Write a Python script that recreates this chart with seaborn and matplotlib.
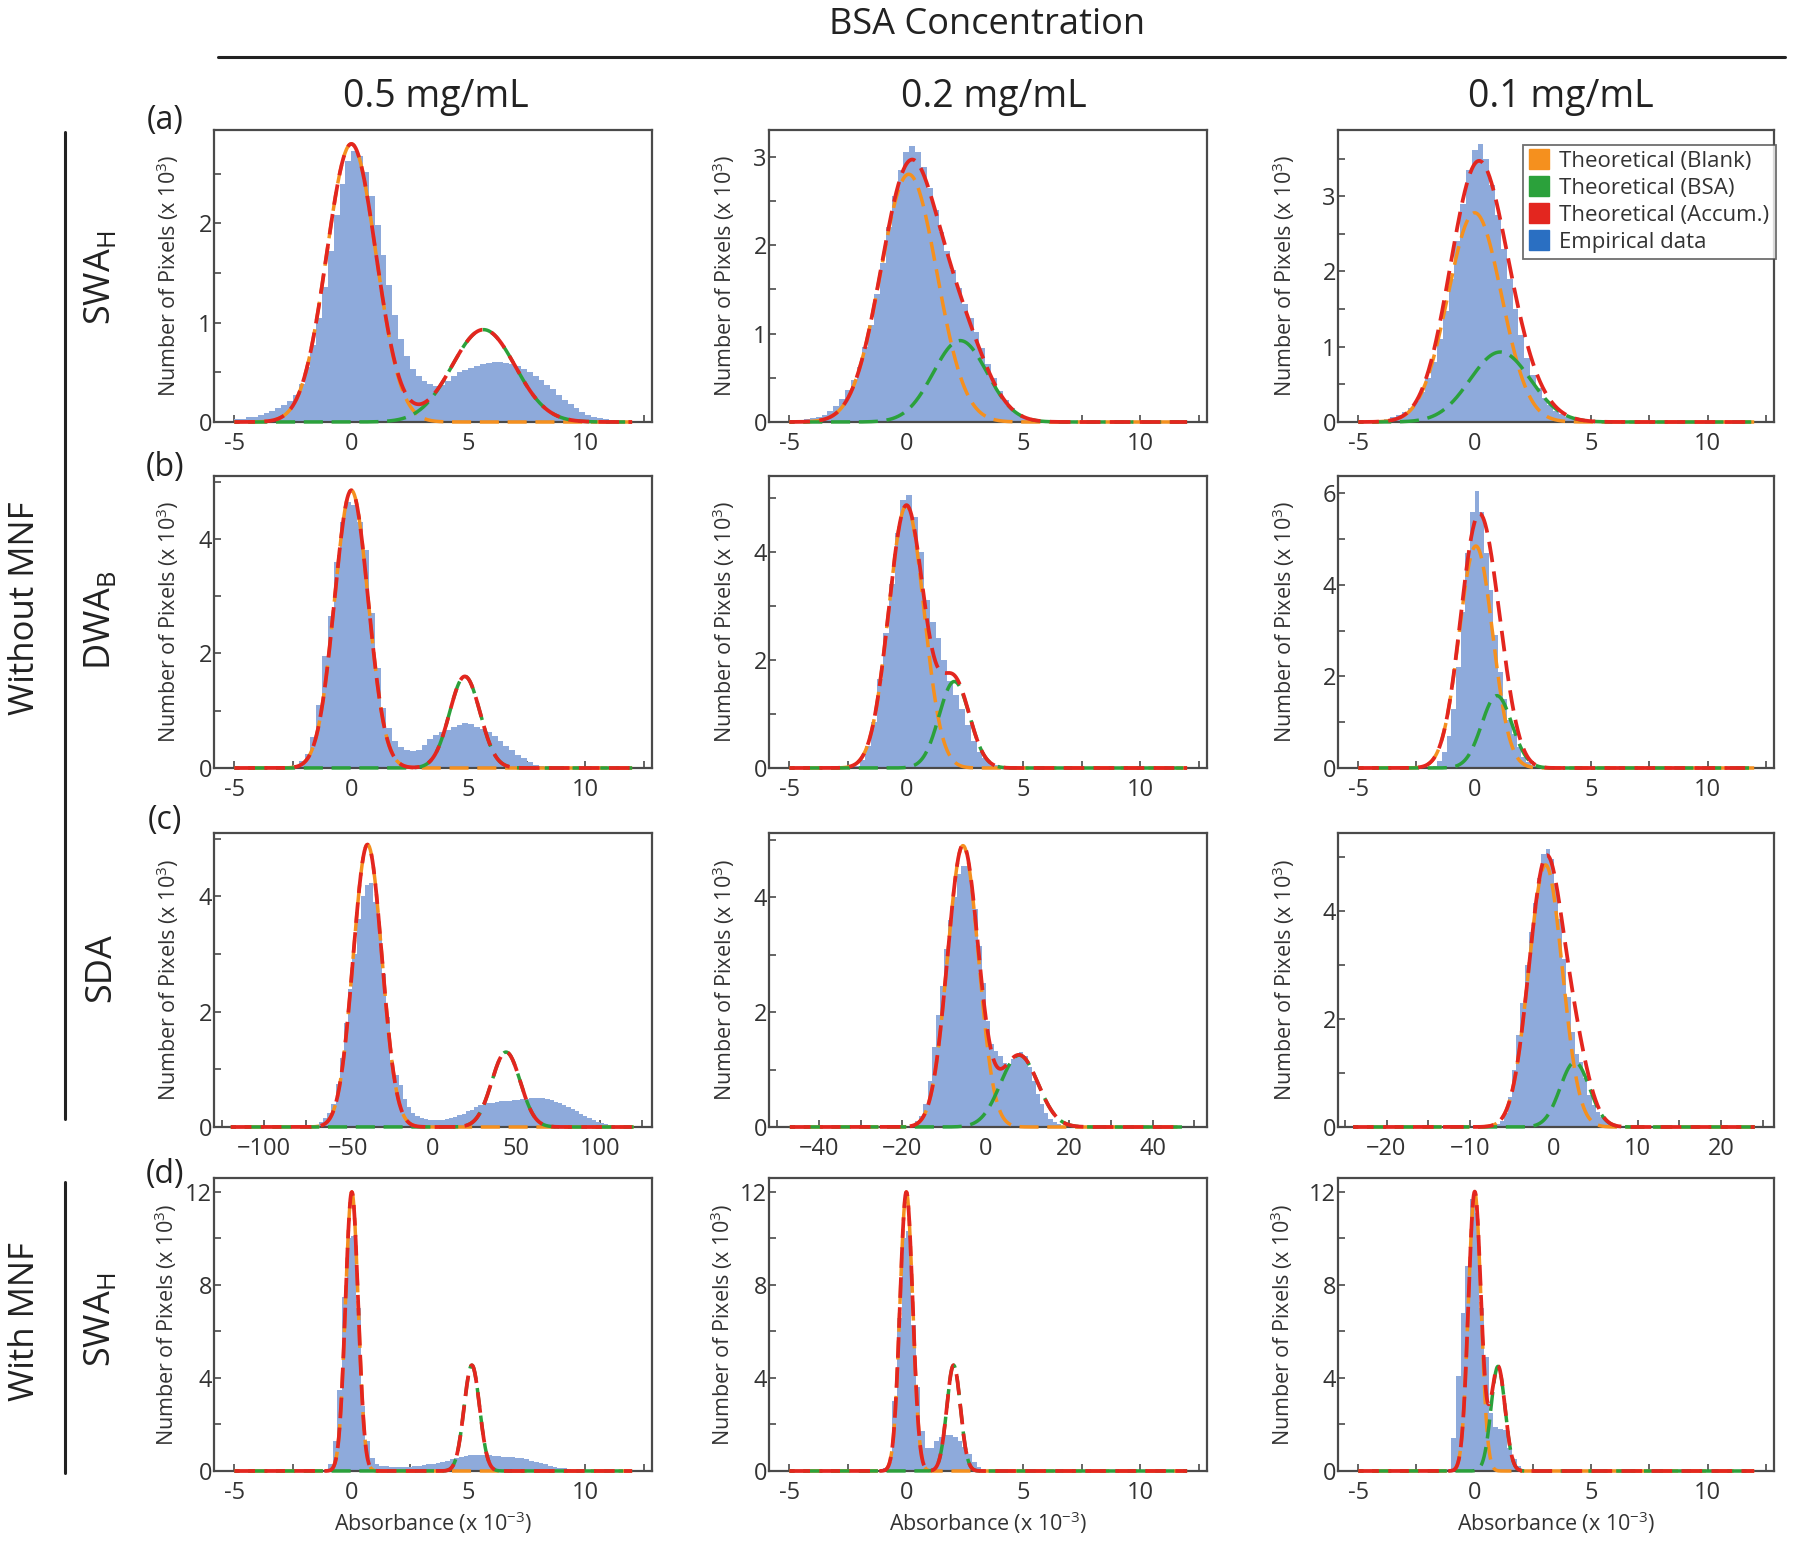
import numpy as np
import pandas as pd
import matplotlib
matplotlib.use('Agg')
import matplotlib.pyplot as plt
from matplotlib.lines import Line2D
from matplotlib.ticker import MultipleLocator
import seaborn as sns

sns.set_theme(style='white')
plt.rcParams['font.family'] = ['Open Sans', 'DejaVu Sans']
plt.rcParams['mathtext.fontset'] = 'custom'
plt.rcParams['mathtext.rm'] = 'Open Sans'

# ---------------- labels ----------------
concentrations = ['0.5 mg/mL', '0.2 mg/mL', '0.1 mg/mL']
methods = ['SWA$_\\mathregular{H}$', 'DWA$_\\mathregular{B}$', 'SDA', 'SWA$_\\mathregular{H}$']
panel_tags = ['(a)', '(b)', '(c)', '(d)']
groups = ['Without MNF', 'With MNF']
legend_names = ['Theoretical (Blank)', 'Theoretical (BSA)', 'Theoretical (Accum.)', 'Empirical data']
ylabel_text = 'Number of Pixels (x 10$^\\mathregular{3}$)'
xlabel_text = 'Absorbance (x 10$^\\mathregular{-3}$)'

# x tick labels
abs_xticks = [-5, 0, 5, 10]
abs_xticklabels = ['-5', '0', '5', '10']
sda_xticks = [[-100, -50, 0, 50, 100], [-40, -20, 0, 20, 40], [-20, -10, 0, 10, 20]]
sda_xticklabels = [['\u2212100', '\u221250', '0', '50', '100'],
                   ['\u221240', '\u221220', '0', '20', '40'],
                   ['\u221220', '\u221210', '0', '10', '20']]

# y tick labels per panel
yticks_a = [[0, 1, 2], [0, 1, 2, 3], [0, 1, 2, 3]]
yticks_b = [[0, 2, 4], [0, 2, 4], [0, 2, 4, 6]]
yticks_c = [[0, 2, 4], [0, 2, 4], [0, 2, 4]]
yticks_d = [[0, 4, 8, 12], [0, 4, 8, 12], [0, 4, 8, 12]]
ymax_a = [2.94, 3.30, 3.88]
ymax_b = [5.10, 5.40, 6.38]
ymax_c = [5.10, 5.12, 5.44]
ymax_d = [12.6, 12.6, 12.6]

# ---------------- empirical histograms (x 10^3 pixels) ----------------
# row (a) SWA_H
start_a1, width_a1 = -5.0, 0.25
hist_a1 = [0.03, 0.03, 0.05, 0.05, 0.07, 0.09, 0.11, 0.14, 0.17, 0.21, 0.27, 0.38, 0.55, 0.78,
           1.05, 1.36, 1.72, 2.08, 2.40, 2.63, 2.73, 2.68, 2.52, 2.28, 1.98, 1.68, 1.38, 1.08,
           0.84, 0.66, 0.53, 0.46, 0.41, 0.38, 0.36, 0.37, 0.41, 0.46, 0.50, 0.52, 0.54, 0.56,
           0.58, 0.59, 0.60, 0.60, 0.59, 0.58, 0.56, 0.53, 0.50, 0.46, 0.42, 0.37, 0.33, 0.27,
           0.22, 0.18, 0.14, 0.10, 0.07, 0.05, 0.04, 0.03, 0.02, 0.01]
start_a2, width_a2 = -4.625, 0.25
hist_a2 = [0.02, 0.03, 0.04, 0.06, 0.08, 0.12, 0.18, 0.26, 0.36, 0.48, 0.62, 0.85, 1.10, 1.45,
           1.80, 2.20, 2.55, 2.85, 3.05, 3.12, 3.05, 2.88, 2.65, 2.40, 2.15, 1.93, 1.72, 1.52,
           1.33, 1.18, 1.02, 0.84, 0.65, 0.50, 0.35, 0.25, 0.16, 0.10, 0.06, 0.03, 0.02]
start_a3, width_a3 = -4.125, 0.25
hist_a3 = [0.02, 0.04, 0.06, 0.09, 0.13, 0.19, 0.28, 0.40, 0.58, 0.80, 1.10, 1.48, 1.90, 2.40,
           2.90, 3.35, 3.62, 3.70, 3.50, 3.15, 2.75, 2.30, 1.90, 1.50, 1.15, 0.85, 0.62, 0.45,
           0.32, 0.22, 0.15, 0.10, 0.06, 0.04, 0.02, 0.01]
# row (b) DWA_B
start_b1, width_b1 = -2.5, 0.25
hist_b1 = [0.05, 0.12, 0.25, 0.55, 1.10, 1.95, 2.65, 3.60, 4.30, 4.65, 4.60, 4.30, 3.80, 2.70,
           1.75, 1.05, 0.70, 0.48, 0.36, 0.31, 0.30, 0.32, 0.40, 0.50, 0.57, 0.63, 0.67, 0.71,
           0.75, 0.79, 0.76, 0.72, 0.68, 0.63, 0.56, 0.47, 0.39, 0.31, 0.23, 0.17, 0.11, 0.06,
           0.03, 0.01]
start_b2, width_b2 = -2.25, 0.25
hist_b2 = [0.03, 0.15, 0.40, 0.85, 1.65, 2.50, 3.40, 4.35, 4.95, 5.05, 4.65, 4.00, 3.10, 2.70,
           2.40, 2.00, 1.60, 1.35, 1.10, 0.80, 0.50, 0.30, 0.18, 0.10, 0.05, 0.02]
start_b3, width_b3 = -1.8, 0.2
hist_b3 = [0.05, 0.15, 0.35, 0.70, 1.30, 2.20, 3.40, 4.70, 5.60, 6.05, 5.60, 4.70, 3.90, 2.90,
           2.10, 1.50, 1.05, 0.75, 0.45, 0.25, 0.13, 0.06, 0.02]
# row (c) SDA
start_c1, width_c1 = -67.5, 2.5
hist_c1 = [0.08, 0.16, 0.25, 0.40, 0.75, 1.20, 1.80, 2.40, 3.00, 3.60, 4.00, 4.20, 4.23, 3.90,
           3.35, 2.65, 1.90, 1.15, 0.90, 0.72, 0.48, 0.35, 0.25, 0.19, 0.16, 0.14, 0.13, 0.13,
           0.13, 0.13, 0.14, 0.15, 0.18, 0.20, 0.23, 0.27, 0.30, 0.34, 0.38, 0.41, 0.42, 0.42,
           0.44, 0.45, 0.45, 0.45, 0.46, 0.47, 0.48, 0.49, 0.50, 0.51, 0.51, 0.51, 0.49, 0.46,
           0.44, 0.41, 0.38, 0.34, 0.31, 0.27, 0.23, 0.19, 0.15, 0.12, 0.09, 0.07, 0.05, 0.03,
           0.02, 0.01]
start_c2, width_c2 = -18.0, 1.0
hist_c2 = [0.05, 0.10, 0.20, 0.40, 0.80, 1.40, 1.95, 2.45, 3.10, 3.60, 4.00, 4.40, 4.55, 4.55,
           4.30, 3.80, 3.15, 2.50, 1.85, 1.45, 1.32, 1.24, 1.12, 1.10, 1.18, 1.26, 1.30, 1.24,
           1.05, 0.80, 0.58, 0.40, 0.24, 0.14, 0.08, 0.05, 0.02]
start_c3, width_c3 = -7.0, 0.5
hist_c3 = [0.05, 0.12, 0.25, 0.55, 1.05, 1.70, 2.30, 3.00, 3.60, 4.15, 4.60, 5.05, 5.15, 4.95,
           4.50, 3.85, 3.10, 2.40, 1.75, 1.35, 1.20, 0.90, 0.60, 0.40, 0.28, 0.18, 0.11, 0.06,
           0.03]
# row (d) SWA_H with MNF
start_d1, width_d1 = -1.0, 0.2
hist_d1 = [0.30, 1.30, 3.50, 7.50, 10.00, 10.10, 7.00, 2.80, 1.30, 0.55, 0.30, 0.22, 0.20, 0.18,
           0.17, 0.17, 0.17, 0.18, 0.20, 0.22, 0.25, 0.28, 0.32, 0.36, 0.40, 0.45, 0.50, 0.55,
           0.60, 0.64, 0.67, 0.69, 0.70, 0.69, 0.67, 0.65, 0.64, 0.62, 0.61, 0.60, 0.58, 0.55,
           0.50, 0.45, 0.38, 0.33, 0.28, 0.23, 0.19, 0.15, 0.11, 0.08, 0.05, 0.03, 0.02]
start_d2, width_d2 = -1.0, 0.2
hist_d2 = [0.15, 0.40, 3.00, 6.60, 10.00, 10.30, 6.30, 3.60, 1.70, 1.00, 0.98, 1.30, 1.45, 1.55,
           1.55, 1.45, 1.30, 1.05, 0.75, 0.40, 0.18, 0.06]
start_d3, width_d3 = -1.2, 0.2
hist_d3 = [0.10, 1.40, 4.10, 6.80, 8.80, 11.70, 11.10, 7.00, 4.90, 2.50, 1.90, 1.80, 1.75, 1.00,
           0.50, 0.20, 0.06]

# ---------------- theoretical gaussians: (amplitude, mean, sd) ----------------
blank_a1, bsa_a1 = (2.80, 0.00, 1.05), (0.93, 5.65, 1.35)
blank_a2, bsa_a2 = (2.80, 0.10, 1.20), (0.92, 2.30, 1.15)
blank_a3, bsa_a3 = (2.78, 0.00, 1.15), (0.93, 1.10, 1.30)
blank_b1, bsa_b1 = (4.85, 0.00, 0.72), (1.60, 4.85, 0.65)
blank_b2, bsa_b2 = (4.85, 0.00, 0.75), (1.60, 2.05, 0.65)
blank_b3, bsa_b3 = (4.85, 0.05, 0.72), (1.58, 0.95, 0.65)
blank_c1, bsa_c1 = (4.90, -38.5, 8.5), (1.30, 44.0, 8.5)
blank_c2, bsa_c2 = (4.90, -5.5, 3.7), (1.25, 8.0, 4.5)
blank_c3, bsa_c3 = (4.85, -1.0, 2.0), (1.20, 2.5, 1.75)
blank_d1, bsa_d1 = (12.0, 0.02, 0.27), (4.55, 5.15, 0.33)
blank_d2, bsa_d2 = (12.0, 0.00, 0.27), (4.55, 2.02, 0.29)
blank_d3, bsa_d3 = (12.0, 0.00, 0.27), (4.50, 1.00, 0.30)

# curve ranges
abs_curve_range = (-5, 12)
sda_curve_range = [(-120, 120), (-47, 47), (-24, 24)]
abs_xlim = (-5.87, 12.85)
sda_xlim = [(-130, 131), (-52, 53), (-25.8, 26.3)]

# ---------------- styles ----------------
c_blank = '#f5901e'
c_bsa = '#2ba13b'
c_sum = '#e3261f'
c_hist = '#8eaadb'
c_emp = '#2a6fc2'
frame = '#4a4a4a'
txt = '#333333'

hists = [[(start_a1, width_a1, hist_a1), (start_a2, width_a2, hist_a2), (start_a3, width_a3, hist_a3)],
         [(start_b1, width_b1, hist_b1), (start_b2, width_b2, hist_b2), (start_b3, width_b3, hist_b3)],
         [(start_c1, width_c1, hist_c1), (start_c2, width_c2, hist_c2), (start_c3, width_c3, hist_c3)],
         [(start_d1, width_d1, hist_d1), (start_d2, width_d2, hist_d2), (start_d3, width_d3, hist_d3)]]
fits = [[(blank_a1, bsa_a1), (blank_a2, bsa_a2), (blank_a3, bsa_a3)],
        [(blank_b1, bsa_b1), (blank_b2, bsa_b2), (blank_b3, bsa_b3)],
        [(blank_c1, bsa_c1), (blank_c2, bsa_c2), (blank_c3, bsa_c3)],
        [(blank_d1, bsa_d1), (blank_d2, bsa_d2), (blank_d3, bsa_d3)]]
yticks_all = [yticks_a, yticks_b, yticks_c, yticks_d]
ymax_all = [ymax_a, ymax_b, ymax_c, ymax_d]
yminor = [0.5, 1, 1, 2]


def gauss(x, p):
    a, m, s = p
    return a * np.exp(-(x - m) ** 2 / (2 * s ** 2))


W, H = 1800, 1541
fig = plt.figure(figsize=(W / 100, H / 100), dpi=100)

col_lr = [(214, 652), (769, 1207), (1338, 1774)]
row_tb = [(130, 422), (476, 768), (833, 1127), (1178, 1471)]
ylab_x = [-0.076, -0.073, -0.095]

dash = (5.5, 2.5)
for r in range(4):
    for c in range(3):
        l, rr = col_lr[c]
        t, b = row_tb[r]
        ax = fig.add_axes([l / W, 1 - b / H, (rr - l) / W, (b - t) / H])
        start, width, h = hists[r][c]
        n = len(h)
        edges = [start + width * i for i in range(n + 1)]
        df = pd.DataFrame({'x': [start + width * (i + 0.5) for i in range(n)], 'w': h})
        sns.histplot(data=df, x='x', weights='w', bins=edges, element='step', fill=True,
                     color=c_hist, alpha=1, linewidth=0, ax=ax, zorder=1)

        if r == 2:
            lo, hi = sda_curve_range[c]
        else:
            lo, hi = abs_curve_range
        xs = np.linspace(lo, hi, 800)
        pb, pg = fits[r][c]
        yb, yg = gauss(xs, pb), gauss(xs, pg)
        ax.plot(xs, yb, color=c_blank, lw=2.5, linestyle=(4, dash), clip_on=False, zorder=4)
        ax.plot(xs, yg, color=c_bsa, lw=2.5, linestyle=(4, dash), clip_on=False, zorder=4)
        ax.plot(xs, yb + yg, color=c_sum, lw=2.7, linestyle=(0, dash), clip_on=False, zorder=5)

        # axes
        if r == 2:
            ax.set_xlim(*sda_xlim[c])
            ax.set_xticks(sda_xticks[c])
            ax.set_xticklabels(sda_xticklabels[c])
            step = sda_xticks[c][1] - sda_xticks[c][0]
            ax.xaxis.set_minor_locator(MultipleLocator(step / 2))
        else:
            ax.set_xlim(*abs_xlim)
            ax.set_xticks(abs_xticks)
            ax.set_xticklabels(abs_xticklabels)
            ax.xaxis.set_minor_locator(MultipleLocator(2.5))
        ax.set_ylim(0, ymax_all[r][c])
        ax.set_yticks(yticks_all[r][c])
        ax.set_yticklabels([str(v) for v in yticks_all[r][c]])
        ax.yaxis.set_minor_locator(MultipleLocator(yminor[r]))

        ax.tick_params(axis='both', which='both', direction='in', length=5, width=1.2,
                       color=frame, labelcolor=txt, labelsize=17, bottom=True, left=True,
                       top=False, right=False)
        ax.tick_params(axis='x', which='both', pad=7.5)
        ax.tick_params(axis='y', which='both', pad=1.5)
        for sp in ax.spines.values():
            sp.set_color(frame)
            sp.set_linewidth(1.6)
            sp.set_zorder(3)
        ax.set_ylabel(ylabel_text, fontsize=15.5, color=txt)
        ax.yaxis.set_label_coords(ylab_x[c] - (0.004 if r == 3 else 0), 0.5)
        if r == 3:
            ax.set_xlabel(xlabel_text, fontsize=15.5, color=txt, labelpad=3)
        else:
            ax.set_xlabel('')

        if r == 0 and c == 2:
            handles = [Line2D([], [], marker='s', linestyle='none', markersize=14,
                              markerfacecolor=col, markeredgecolor=col)
                       for col in [c_blank, c_bsa, c_sum, c_emp]]
            leg = ax.legend(handles, legend_names, loc='upper right', bbox_to_anchor=(1.005, 0.95),
                            borderaxespad=0, fontsize=16, frameon=True, fancybox=False,
                            handlelength=0.9, handletextpad=0.45, labelspacing=0.26, borderpad=0.3)
            leg.get_frame().set_edgecolor(frame)
            leg.get_frame().set_linewidth(1.3)
            for tx in leg.get_texts():
                tx.set_color(txt)

# ---------------- header and side labels ----------------
fig.text(987 / W, 1 - 25 / H, 'BSA Concentration', ha='center', va='center', fontsize=26, color='#222222')
fig.add_artist(Line2D([218 / W, 1785 / W], [1 - 57 / H, 1 - 57 / H], color='#222222', lw=2.2))
for x, s in zip([436, 994, 1561], concentrations):
    fig.text(x / W, 1 - 97 / H, s, ha='center', va='center', fontsize=27, color='#222222')
for y, s in zip([121, 467, 820, 1174], panel_tags):
    fig.text(165 / W, 1 - y / H, s, ha='center', va='center', fontsize=23, color='#222222')
for y, s in zip([278, 620, 968, 1320], methods):
    fig.text(101 / W, 1 - y / H, s, ha='center', va='center', fontsize=26, rotation=90, color='#222222')
fig.text(25 / W, 1 - 608 / H, groups[0], ha='center', va='center', fontsize=25, rotation=90, color='#222222')
fig.text(25 / W, 1 - 1322 / H, groups[1], ha='center', va='center', fontsize=25, rotation=90, color='#222222')
fig.add_artist(Line2D([65 / W, 65 / W], [1 - 132 / H, 1 - 1119 / H], color='#222222', lw=2.2))
fig.add_artist(Line2D([65 / W, 65 / W], [1 - 1182 / H, 1 - 1473 / H], color='#222222', lw=2.2))

fig.savefig('out.png', dpi=100, facecolor='white')
